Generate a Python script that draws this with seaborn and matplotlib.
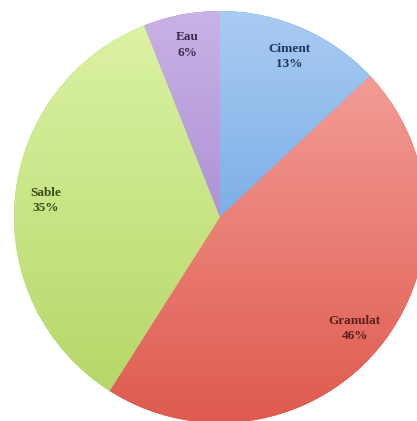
import numpy as np
import matplotlib
matplotlib.use("Agg")
import matplotlib.pyplot as plt
import seaborn as sns
from matplotlib.colors import LinearSegmentedColormap

categories = ["Ciment", "Granulat", "Sable", "Eau"]
values = [13, 46, 35, 6]
top_colors = ["#aacbf3", "#f6a9a2", "#dcf3a6", "#c9b2e6"]
bottom_colors = ["#4f93d9", "#df5a4f", "#b3d563", "#9373c6"]
label_colors = ["#1e3556", "#5e1f1c", "#3b4a1c", "#3a2c52"]

sns.set_style("white")
plt.rcParams['font.family'] = ['Liberation Serif', 'DejaVu Serif']

fig = plt.figure(figsize=(4.17, 4.21), dpi=100)
ax = fig.add_axes([0, 0, 1, 1])
cx, cy, r = 220, 204, 206

def fmt(pct):
    return ""

wedges, _, autotexts = ax.pie(values, startangle=90, counterclock=False,
                              colors=bottom_colors, center=(cx, cy), radius=r,
                              autopct=fmt, pctdistance=0.85,
                              wedgeprops=dict(linewidth=0))
for w, t, name, v, tc, bc, lc in zip(wedges, autotexts, categories, values,
                                     top_colors, bottom_colors, label_colors):
    cmap = LinearSegmentedColormap.from_list(name, [bc, tc])
    grad = np.linspace(0, 1, 256).reshape(-1, 1)
    im = ax.imshow(grad, cmap=cmap, extent=[cx - r, cx + r, cy - r, cy + r],
                   origin="lower", aspect="auto", zorder=1.5)
    im.set_clip_path(w)
    t.set_text(f"{name}\n{v}%")
    t.set_color(lc)
    t.set_fontsize(9.5)
    t.set_fontweight("bold")
    t.set_zorder(3)
    t.set_linespacing(1.4)

ax.set_xlim(0, 417)
ax.set_ylim(0, 421)
ax.set_aspect("equal")
ax.axis("off")
fig.savefig("out.png", dpi=100, facecolor="white")
